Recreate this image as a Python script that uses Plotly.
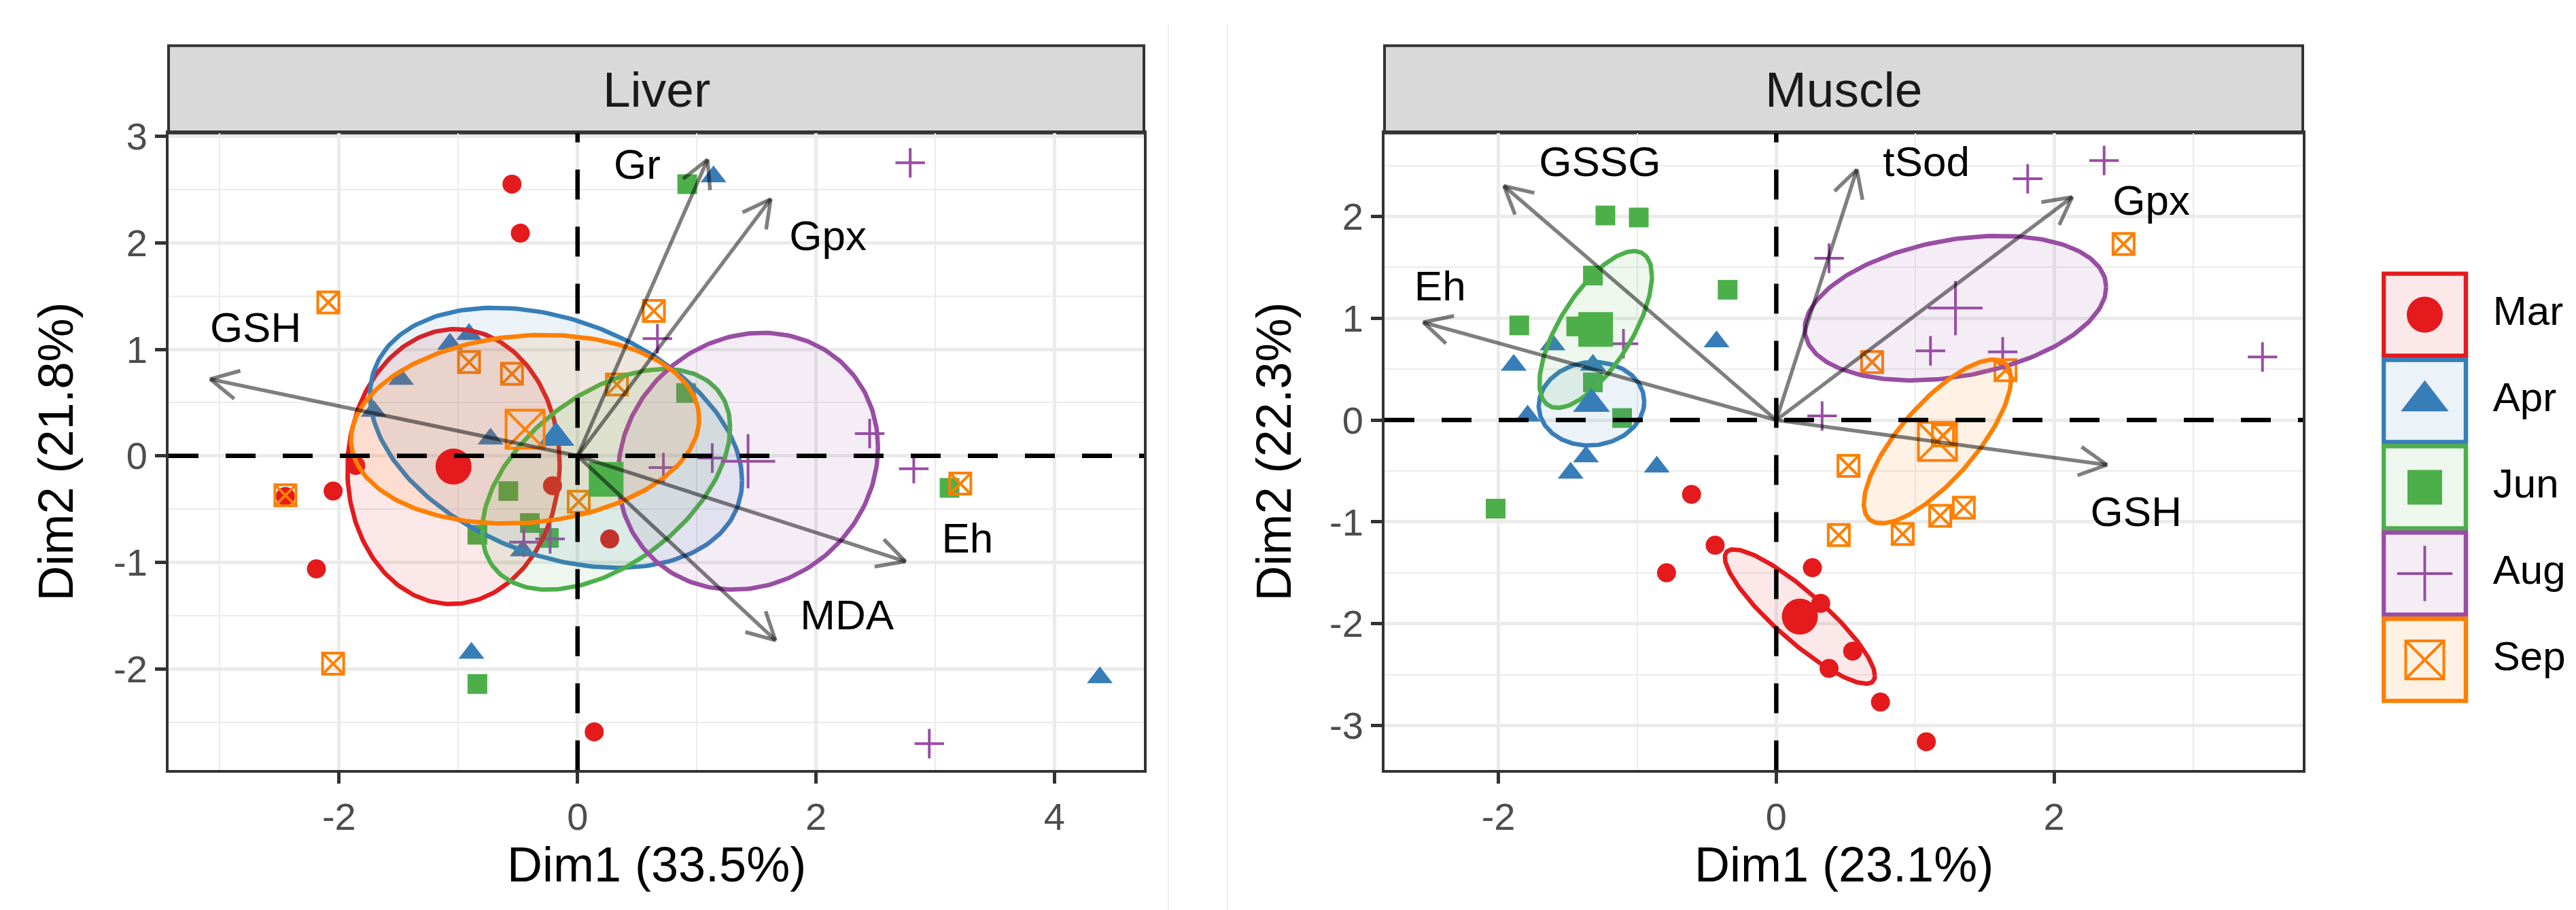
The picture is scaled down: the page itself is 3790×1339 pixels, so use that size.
import numpy as np
import plotly.graph_objects as go

months = ["Mar", "Apr", "Jun", "Aug", "Sep"]
colors = ["#E41A1C", "#377EB8", "#4DAF4A", "#984EA3", "#FF7F00"]

# Liver individuals (Dim1, Dim2)
liver_mar_x = [-0.55, -0.48, -2.05, -2.45, -2.19, -1.86, -0.21, 0.27, 0.14]
liver_mar_y = [2.55, 2.09, -0.33, -0.38, -1.06, -0.09, -0.28, -0.78, -2.59]
liver_apr_x = [-1.07, -0.91, -1.48, -1.71, -0.73, -0.46, -0.89, 1.14, 4.38]
liver_apr_y = [1.05, 1.14, 0.72, 0.42, 0.16, -0.89, -1.85, 2.62, -2.08]
liver_jun_x = [0.92, 0.91, 3.12, -0.84, -0.58, -0.40, -0.84, -0.24]
liver_jun_y = [2.55, 0.59, -0.30, -2.14, -0.33, -0.63, -0.74, -0.77]
liver_aug_x = [2.79, 0.67, 2.45, 2.82, 1.13, 0.72, -0.45, -0.23, 2.95]
liver_aug_y = [2.75, 1.10, 0.21, -0.12, -0.02, -0.11, -0.81, -0.78, -2.70]
liver_sep_x = [-2.09, -0.91, -0.55, 0.33, 0.64, 0.01, -2.45, -2.05, 3.21]
liver_sep_y = [1.44, 0.88, 0.77, 0.67, 1.36, -0.43, -0.37, -1.95, -0.26]

# Liver group means and ellipses (half width, half height, tilt r)
liver_mean_x = [-1.04, -0.18, 0.24, 1.43, -0.44]
liver_mean_y = [-0.10, 0.17, -0.22, -0.05, 0.25]
liver_ell_w = [0.89, 1.56, 1.04, 1.09, 1.46]
liver_ell_h = [1.29, 1.22, 1.035, 1.205, 0.885]
liver_ell_r = [0.02, -0.33, 0.47, 0.11, 0.11]

# Liver variables
liver_vars = ["GSH", "Gr", "Gpx", "Eh", "MDA"]
liver_var_x = [-3.08, 1.09, 1.62, 2.75, 1.66]
liver_var_y = [0.72, 2.78, 2.41, -0.99, -1.73]
liver_lab_x = [-2.70, 0.50, 2.10, 3.27, 2.26]
liver_lab_y = [1.17, 2.70, 2.03, -0.81, -1.53]

# Muscle individuals
muscle_mar_x = [-0.61, -0.44, -0.79, 0.26, 0.32, 0.55, 0.38, 0.75, 1.08]
muscle_mar_y = [-0.73, -1.23, -1.50, -1.45, -1.80, -2.27, -2.44, -2.77, -3.16]
muscle_apr_x = [-1.61, -1.89, -0.43, -1.79, -1.32, -1.37, -1.48, -0.86]
muscle_apr_y = [0.74, 0.54, 0.77, 0.04, 0.54, -0.36, -0.52, -0.46]
muscle_jun_x = [-1.23, -0.99, -0.35, -1.85, -1.32, -1.44, -1.11, -2.02, -1.32]
muscle_jun_y = [2.01, 1.99, 1.28, 0.93, 1.42, 0.92, 0.02, -0.87, 0.37]
muscle_aug_x = [2.36, 1.81, 0.38, 1.11, 1.63, 3.50, 0.33, -1.10]
muscle_aug_y = [2.55, 2.37, 1.59, 0.68, 0.67, 0.62, 0.04, 0.75]
muscle_sep_x = [2.50, 0.69, 1.65, 0.52, 1.35, 1.18, 0.91, 0.45, 1.20]
muscle_sep_y = [1.73, 0.57, 0.49, -0.45, -0.86, -0.94, -1.12, -1.13, -0.15]

muscle_mean_x = [0.17, -1.33, -1.30, 1.29, 1.16]
muscle_mean_y = [-1.93, 0.16, 0.89, 1.10, -0.21]
muscle_ell_w = [0.54, 0.38, 0.405, 1.085, 0.53]
muscle_ell_h = [0.66, 0.41, 0.77, 0.71, 0.805]
muscle_ell_r = [-0.88, 0.05, 0.68, 0.29, 0.76]

muscle_vars = ["GSSG", "tSod", "Gpx", "Eh", "GSH"]
muscle_var_x = [-1.96, 0.58, 2.13, -2.54, 2.38]
muscle_var_y = [2.30, 2.46, 2.19, 0.96, -0.44]
muscle_lab_x = [-1.27, 1.08, 2.70, -2.42, 2.59]
muscle_lab_y = [2.50, 2.50, 2.12, 1.28, -0.94]

liver_xticks = [-2, 0, 2, 4]
liver_yticks = [-2, -1, 0, 1, 2, 3]
muscle_xticks = [-2, 0, 2]
muscle_yticks = [-3, -2, -1, 0, 1, 2]

W, H = 3790, 1339
FONT = "Liberation Sans, Arial, sans-serif"
symbols = ["circle", "triangle-up", "square", "cross-thin-open", "square-x-open"]
pt_size = [28, 33, 29, 31, 31]
mean_size = [53, 47, 51, 57, 56]


def rgba(hexc, a):
    h = hexc.lstrip("#")
    return "rgba(%d,%d,%d,%s)" % (int(h[0:2], 16), int(h[2:4], 16), int(h[4:6], 16), a)


def marker(i, size):
    m = dict(symbol=symbols[i], size=size, color=colors[i], line=dict(width=0, color=colors[i]))
    if symbols[i].endswith("open"):
        m["line"]["width"] = 4
    return m


def add_panel(fig, xa, ya, pts, means, ell, var, labs, names, xr, yr, xdom, ydom):
    # individuals
    for i in range(5):
        fig.add_trace(go.Scatter(x=pts[i][0], y=pts[i][1], mode="markers", marker=marker(i, pt_size[i]),
                                 xaxis=xa, yaxis=ya, showlegend=False, hoverinfo="skip"))
    # ellipses
    t = np.linspace(0, 2 * np.pi, 240)
    for i in range(5):
        cx, cy = means[0][i], means[1][i]
        w, h, r = ell[0][i], ell[1][i], ell[2][i]
        ex = cx + w * np.cos(t)
        ey = cy + h * (r * np.cos(t) + np.sqrt(1 - r * r) * np.sin(t))
        fig.add_trace(go.Scatter(x=ex, y=ey, mode="lines", fill="toself", fillcolor=rgba(colors[i], 0.1),
                                 line=dict(color=colors[i], width=6.5), xaxis=xa, yaxis=ya,
                                 showlegend=False, hoverinfo="skip"))
    # group means
    for i in range(5):
        fig.add_trace(go.Scatter(x=[means[0][i]], y=[means[1][i]], mode="markers", marker=marker(i, mean_size[i]),
                                 xaxis=xa, yaxis=ya, showlegend=False, hoverinfo="skip"))
    # dashed axes
    dash = dict(color="black", width=6.5, dash="44px,40px")
    fig.add_trace(go.Scatter(x=xr, y=[0, 0], mode="lines", line=dash, xaxis=xa, yaxis=ya,
                             showlegend=False, hoverinfo="skip"))
    fig.add_trace(go.Scatter(x=[0, 0], y=yr, mode="lines", line=dash, xaxis=xa, yaxis=ya,
                             showlegend=False, hoverinfo="skip"))
    # variable arrows, heads worked out in pixel space
    sx = W * (xdom[1] - xdom[0]) / (xr[1] - xr[0])
    sy = H * (ydom[1] - ydom[0]) / (yr[1] - yr[0])
    hl, ang = 46, np.radians(28)
    ax, ay = [], []
    for tx, ty in zip(var[0], var[1]):
        dx, dy = tx * sx, ty * sy
        n = np.hypot(dx, dy)
        ux, uy = -dx / n, -dy / n
        ax += [0, tx, None]
        ay += [0, ty, None]
        hx, hy = [], []
        for a in (ang, -ang):
            bx = ux * np.cos(a) - uy * np.sin(a)
            by = ux * np.sin(a) + uy * np.cos(a)
            hx.append(tx + bx * hl / sx)
            hy.append(ty + by * hl / sy)
        ax += [hx[0], tx, hx[1], None]
        ay += [hy[0], ty, hy[1], None]
    fig.add_trace(go.Scatter(x=ax, y=ay, mode="lines", line=dict(color="rgba(0,0,0,0.5)", width=5.5),
                             xaxis=xa, yaxis=ya, showlegend=False, hoverinfo="skip"))
    fig.add_trace(go.Scatter(x=labs[0], y=labs[1], text=names, mode="text",
                             textfont=dict(family=FONT, size=62, color="black"),
                             xaxis=xa, yaxis=ya, showlegend=False, hoverinfo="skip"))


def axis(dom, rng, ticks, minor, anchor):
    return dict(domain=dom, range=rng, anchor=anchor, tickmode="array", tickvals=ticks,
                ticktext=[str(v) for v in ticks], showgrid=True, gridcolor="#EBEBEB", gridwidth=4.5,
                minor=dict(dtick=minor, tick0=0, showgrid=True, gridcolor="#EBEBEB", gridwidth=2.3),
                zeroline=False, showline=True, mirror=True, linecolor="#333333", linewidth=4,
                ticks="outside", ticklen=16, tickwidth=4.5, tickcolor="#333333",
                tickfont=dict(family=FONT, size=56, color="#4D4D4D"))


Lx = [240 / W, 1675 / W]
Rx = [2029 / W, 3380 / W]
Py = [1 - 1121 / H, 1 - 164 / H]
liver_xr = [-3.43, 4.75]
liver_yr = [-2.95, 3.03]
muscle_xr = [-2.82, 3.79]
muscle_yr = [-3.44, 2.82]

fig = go.Figure()

liver_pts = [(liver_mar_x, liver_mar_y), (liver_apr_x, liver_apr_y), (liver_jun_x, liver_jun_y),
             (liver_aug_x, liver_aug_y), (liver_sep_x, liver_sep_y)]
muscle_pts = [(muscle_mar_x, muscle_mar_y), (muscle_apr_x, muscle_apr_y), (muscle_jun_x, muscle_jun_y),
              (muscle_aug_x, muscle_aug_y), (muscle_sep_x, muscle_sep_y)]

add_panel(fig, "x", "y", liver_pts, (liver_mean_x, liver_mean_y), (liver_ell_w, liver_ell_h, liver_ell_r),
          (liver_var_x, liver_var_y), (liver_lab_x, liver_lab_y), liver_vars, liver_xr, liver_yr, Lx, Py)
add_panel(fig, "x2", "y2", muscle_pts, (muscle_mean_x, muscle_mean_y), (muscle_ell_w, muscle_ell_h, muscle_ell_r),
          (muscle_var_x, muscle_var_y), (muscle_lab_x, muscle_lab_y), muscle_vars, muscle_xr, muscle_yr, Rx, Py)

# legend drawn on its own small axes
fig.add_trace(go.Scatter(x=[0] * 5, y=months, mode="markers", xaxis="x3", yaxis="y3",
                         marker=dict(symbol="square", size=121, color=[rgba(c, 0.1) for c in colors],
                                     line=dict(color=colors, width=6.5)),
                         showlegend=False, hoverinfo="skip"))
leg_size = [53, 61, 51, 58, 56]
for i in range(5):
    fig.add_trace(go.Scatter(x=[0], y=[months[i]], mode="markers", marker=marker(i, leg_size[i]),
                             xaxis="x3", yaxis="y3", showlegend=False, hoverinfo="skip"))
fig.add_trace(go.Scatter(x=[0.79] * 5, y=months, text=months, mode="text", textposition="middle right",
                         textfont=dict(family=FONT, size=60, color="black"),
                         xaxis="x3", yaxis="y3", showlegend=False, hoverinfo="skip"))

strip_y = [1 - 164 / H, 1 - 33 / H]
shapes = []
annots = []
for dom, name in ((Lx, "Liver"), (Rx, "Muscle")):
    shapes.append(dict(type="rect", xref="paper", yref="paper", x0=dom[0], x1=dom[1], y0=strip_y[0], y1=strip_y[1],
                       fillcolor="#D9D9D9", line=dict(color="#333333", width=4), layer="below"))
    annots.append(dict(text=name, x=(dom[0] + dom[1]) / 2, y=(strip_y[0] + strip_y[1]) / 2, xref="paper",
                       yref="paper", showarrow=False, xanchor="center", yanchor="middle",
                       font=dict(family=FONT, size=73, color="#1A1A1A")))
for sep in (1711, 1798):
    shapes.append(dict(type="line", xref="paper", yref="paper", x0=sep / W, x1=sep / W, y0=0, y1=1,
                       line=dict(color="#EEEEEE", width=2)))

titles = [("Dim1 (33.5%)", (Lx[0] + Lx[1]) / 2, 1 - 1262 / H, 0),
          ("Dim2 (21.8%)", 74 / W, (Py[0] + Py[1]) / 2, -90),
          ("Dim1 (23.1%)", (Rx[0] + Rx[1]) / 2, 1 - 1262 / H, 0),
          ("Dim2 (22.3%)", 1866 / W, (Py[0] + Py[1]) / 2, -90)]
for txt, x, y, a in titles:
    annots.append(dict(text=txt, x=x, y=y, xref="paper", yref="paper", showarrow=False, textangle=a,
                       xanchor="center", yanchor="middle", font=dict(family=FONT, size=72, color="black")))

fig.update_layout(
    width=W, height=H, margin=dict(l=0, r=0, t=0, b=0),
    paper_bgcolor="white", plot_bgcolor="white", showlegend=False,
    xaxis=axis(Lx, liver_xr, liver_xticks, 1, "y"),
    yaxis=axis(Py, liver_yr, liver_yticks, 0.5, "x"),
    xaxis2=axis(Rx, muscle_xr, muscle_xticks, 1, "y2"),
    yaxis2=axis(Py, muscle_yr, muscle_yticks, 0.5, "x2"),
    xaxis3=dict(domain=[3496 / W, 1.0], range=[-0.5, 1.815], visible=False, anchor="y3"),
    yaxis3=dict(domain=[1 - 1020 / H, 1 - 372 / H], range=[4.5, -0.5], type="category",
                categoryorder="array", categoryarray=months, visible=False, anchor="x3"),
    shapes=shapes, annotations=annots,
)

fig.write_html("out.html")
